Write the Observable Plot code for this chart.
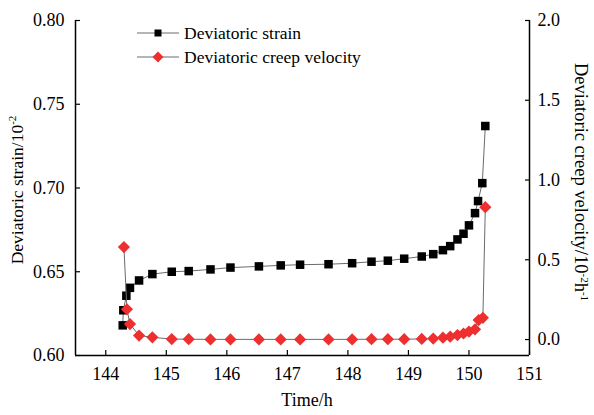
<!DOCTYPE html>
<html>
<head>
<meta charset="utf-8">
<script src="https://cdn.jsdelivr.net/npm/d3@7"></script>
<script src="https://cdn.jsdelivr.net/npm/@observablehq/plot@0.6"></script>
<style>
  html, body { margin: 0; padding: 0; background: #fff; }
</style>
</head>
<body>
<div id="chart"></div>
<script>
// ---- data ----
const strainTime = [144.28, 144.29, 144.34, 144.40, 144.55, 144.77, 145.09, 145.37, 145.73, 146.06, 146.53, 146.89, 147.21, 147.68, 148.07, 148.39, 148.66, 148.93, 149.22, 149.41, 149.57, 149.69, 149.81, 149.91, 150.00, 150.10, 150.15, 150.22, 150.27];
const strain = [0.618, 0.627, 0.6357, 0.6404, 0.6448, 0.6486, 0.6500, 0.6504, 0.6514, 0.6525, 0.6532, 0.6538, 0.6542, 0.6545, 0.6551, 0.6560, 0.6566, 0.6578, 0.6591, 0.6605, 0.6629, 0.6653, 0.6693, 0.6727, 0.6777, 0.6850, 0.6922, 0.7029, 0.7370];

const velocityTime = [144.30, 144.35, 144.40, 144.55, 144.77, 145.09, 145.37, 145.73, 146.06, 146.53, 146.89, 147.21, 147.68, 148.07, 148.39, 148.66, 148.93, 149.22, 149.41, 149.57, 149.69, 149.81, 149.91, 150.00, 150.10, 150.16, 150.23, 150.27];
const velocity = [0.58, 0.19, 0.097, 0.025, 0.014, 0.003, 0.002, 0.001, 0.001, 0.001, 0.001, 0.001, 0.001, 0.001, 0.002, 0.002, 0.002, 0.004, 0.006, 0.012, 0.018, 0.028, 0.038, 0.050, 0.064, 0.122, 0.136, 0.83];

const xTicks = [144, 145, 146, 147, 148, 149, 150, 151];
const strainTicks = [0.60, 0.65, 0.70, 0.75, 0.80];
const velocityTicks = [0.0, 0.5, 1.0, 1.5, 2.0];
const xDomain = [143.5, 151];
const strainDomain = [0.60, 0.80];
const velocityDomain = [-0.1, 2.0];

const seriesNames = ["Deviatoric strain", "Deviatoric creep velocity"];
const xTitle = "Time/h";

// map velocity onto the strain (left) scale
const v2y = v => strainDomain[0] + (v - velocityDomain[0]) / (velocityDomain[1] - velocityDomain[0]) * (strainDomain[1] - strainDomain[0]);
const y2v = y => velocityDomain[0] + (y - strainDomain[0]) / (strainDomain[1] - strainDomain[0]) * (velocityDomain[1] - velocityDomain[0]);
const fmtV = d => { const v = Math.round(y2v(d) * 10) / 10; return (Math.abs(v) < 1e-9 ? 0 : v).toFixed(1); };

const strainData = strainTime.map((t, i) => ({t, y: strain[i]}));
const velocityData = velocityTime.map((t, i) => ({t, y: v2y(velocity[i])}));

const RED = "#ee2f2f";
const LINE = "#6b6b6b";
const FONT = "'Liberation Serif', 'Times New Roman', serif";

const plot = Plot.plot({
  width: 594,
  height: 415,
  marginLeft: 75,
  marginRight: 65,
  marginTop: 20,
  marginBottom: 60,
  style: {fontFamily: FONT, fontSize: "18px", background: "#fff", color: "#000", overflow: "visible"},
  x: {domain: xDomain},
  y: {domain: strainDomain},
  marks: [
    Plot.axisX(xTicks, {anchor: "bottom", tickSize: -5, tickPadding: 17, tickFormat: d => String(d), label: null, strokeWidth: 1.2}),
    Plot.axisY(strainTicks, {anchor: "left", tickSize: -5, tickPadding: 16, tickFormat: d => d.toFixed(2), label: null, strokeWidth: 1.2}),
    Plot.axisY(velocityTicks.map(v2y), {anchor: "right", tickSize: -5, tickPadding: 13, tickFormat: fmtV, label: null, strokeWidth: 1.2}),
    Plot.ruleX([xDomain[0], xDomain[1]], {stroke: "#000", strokeWidth: 1.5}),
    Plot.ruleY([strainDomain[0]], {stroke: "#000", strokeWidth: 1.5}),
    Plot.line(strainData, {x: "t", y: "y", stroke: LINE, strokeWidth: 1}),
    Plot.dot(strainData, {x: "t", y: "y", symbol: "square", r: 4.8, fill: "#000", stroke: "none"}),
    Plot.line(velocityData, {x: "t", y: "y", stroke: LINE, strokeWidth: 1}),
    Plot.dot(velocityData, {x: "t", y: "y", symbol: "diamond2", r: 5.5, fill: RED, stroke: "none"})
  ]
});

document.getElementById("chart").appendChild(plot);

// titles and legend
const svg = d3.select(plot);
const g = svg.append("g").attr("font-family", FONT).attr("fill", "#000");

// x title
g.append("text").attr("x", 307).attr("y", 406).attr("text-anchor", "middle").attr("font-size", 18).text(xTitle);

// left y title
const lt = g.append("text").attr("transform", "translate(23,190) rotate(-90)").attr("text-anchor", "middle").attr("font-size", 17.5);
lt.append("tspan").text("Deviatoric strain/10");
lt.append("tspan").attr("dy", -7).attr("font-size", 11).text("-2");

// right y title
const rt = g.append("text").attr("transform", "translate(575,182) rotate(90)").attr("text-anchor", "middle").attr("font-size", 18.5);
rt.append("tspan").text("Deviatoric creep velocity/10");
rt.append("tspan").attr("dy", -6).attr("font-size", 11).text("-2");
rt.append("tspan").attr("dy", 6).text("h");
rt.append("tspan").attr("dy", -6).attr("font-size", 11).text("-1");

// legend
const legend = g.append("g").attr("text-anchor", "start");
const rows = [
  {name: seriesNames[0], y: 33, sym: "square"},
  {name: seriesNames[1], y: 57, sym: "diamond"}
];
rows.forEach(r => {
  legend.append("line").attr("x1", 137).attr("x2", 179).attr("y1", r.y).attr("y2", r.y).attr("stroke", LINE).attr("stroke-width", 1);
  if (r.sym === "square") {
    legend.append("rect").attr("x", 154.5).attr("y", r.y - 3.5).attr("width", 7).attr("height", 7).attr("fill", "#000");
  } else {
    legend.append("path").attr("d", `M158,${r.y - 5.5}L163.5,${r.y}L158,${r.y + 5.5}L152.5,${r.y}Z`).attr("fill", RED);
  }
  legend.append("text").attr("x", 184).attr("y", r.y).attr("dy", "0.35em").attr("text-anchor", "start").attr("font-size", 17.5).text(r.name);
});
</script>
</body>
</html>
